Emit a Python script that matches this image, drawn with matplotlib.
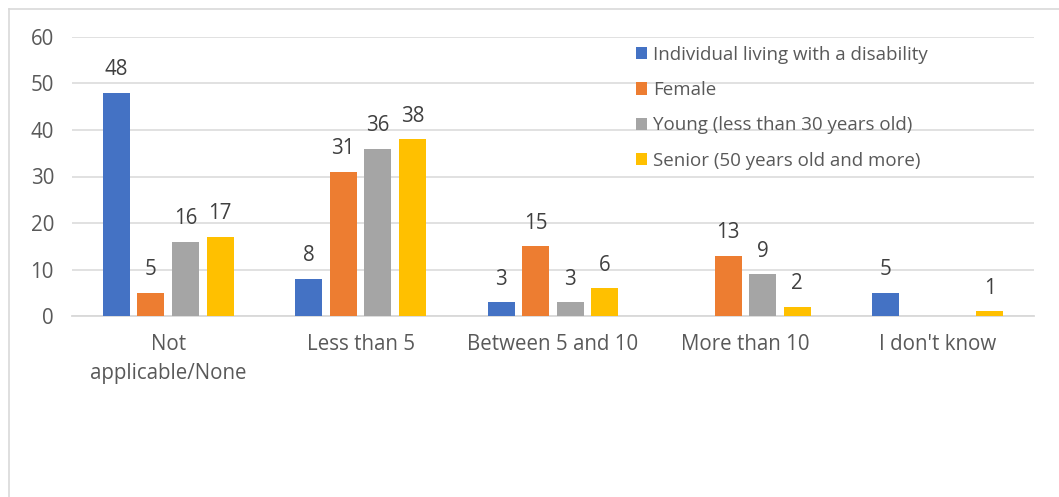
import numpy as np
import matplotlib
matplotlib.use("Agg")
import matplotlib.pyplot as plt
from matplotlib.lines import Line2D

categories = ["Not\napplicable/None", "Less than 5", "Between 5 and 10", "More than 10", "I don't know"]
series_names = ["Individual living with a disability", "Female",
                "Young (less than 30 years old)", "Senior (50 years old and more)"]
disability = [48, 8, 3, None, 5]
female = [5, 31, 15, 13, None]
young = [16, 36, 3, 9, None]
senior = [17, 38, 6, 2, 1]
y_ticks = [0, 10, 20, 30, 40, 50, 60]

colors = ["#4472C4", "#ED7D31", "#A5A5A5", "#FFC000"]
plt.rcParams["font.family"] = ["Open Sans", "DejaVu Sans"]

W, H = 1059, 497
fig = plt.figure(figsize=(W / 100, H / 100), dpi=100)
# plot area in pixel coords: left 72, right 1034, top 37 (y=60), bottom 316 (y=0)
ax = fig.add_axes([72 / W, 1 - 316 / H, (1034 - 72) / W, (316 - 37) / H])

x = np.arange(len(categories))
pitch, width = 0.18, 0.14
for k, (vals, name, c) in enumerate(zip([disability, female, young, senior], series_names, colors)):
    xs = x + (k - 1.5) * pitch
    hv = [v if v is not None else 0 for v in vals]
    ax.bar(xs, hv, width=width, color=c, label=name, zorder=3)
    for xi, v in zip(xs, vals):
        if v is None:
            continue
        ax.annotate(str(v), (xi, v), xytext=(0, 9), textcoords="offset points",
                    ha="center", va="bottom", fontsize=14.8, color="#404040")

ax.set_xlim(-0.5, len(categories) - 0.5)
ax.set_ylim(0, 60)
ax.set_yticks(y_ticks)
ax.set_xticks(x)
ax.set_xticklabels(categories, linespacing=1.5)
ax.tick_params(axis="both", length=0, labelsize=14.8, labelcolor="#595959")
ax.tick_params(axis="x", pad=13)
ax.tick_params(axis="y", pad=13)
ax.grid(axis="y", color="#D9D9D9", linewidth=1.1, zorder=0)
for s in ["top", "right", "left"]:
    ax.spines[s].set_visible(False)
ax.spines["bottom"].set_color("#D9D9D9")
ax.spines["bottom"].set_linewidth(1.3)

leg = ax.legend(loc="upper left", bbox_to_anchor=(0.578, 0.995), frameon=False,
                fontsize=13.5, labelcolor="#595959", handlelength=0.62, handleheight=0.62,
                handletextpad=0.3, labelspacing=0.92, borderaxespad=0)

# chart border (top and left only visible in the crop)
fig.add_artist(Line2D([8.5 / W, 8.5 / W], [0, 1 - 8.5 / H], transform=fig.transFigure,
                      color="#D9D9D9", linewidth=1.2))
fig.add_artist(Line2D([8.5 / W, 1], [1 - 8.5 / H, 1 - 8.5 / H], transform=fig.transFigure,
                      color="#D9D9D9", linewidth=1.2))

fig.savefig("out.png", dpi=100, facecolor="white")
